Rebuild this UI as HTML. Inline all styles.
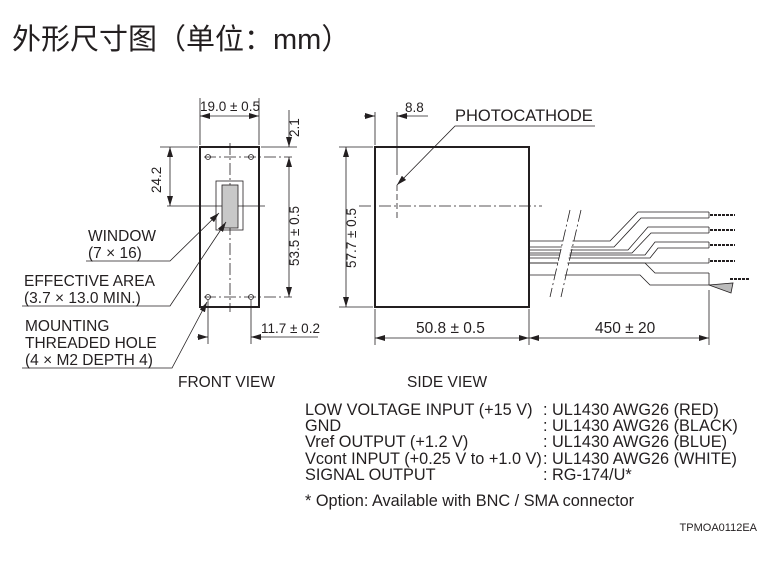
<!DOCTYPE html>
<html><head><meta charset="utf-8"><style>
body{margin:0;background:#fff;width:771px;height:581px;overflow:hidden}
svg{display:block}
text{font-family:"Liberation Sans",Arial,sans-serif;fill:#231f20}
</style></head><body>
<svg width="771" height="581" viewBox="0 0 771 581" xmlns="http://www.w3.org/2000/svg">
<defs>
<marker id="a" viewBox="0 0 10 6" refX="10" refY="3" markerWidth="10" markerHeight="6" orient="auto-start-reverse" markerUnits="userSpaceOnUse"><path d="M0,0L10,3L0,6z" fill="#231f20"/></marker>
</defs>
<text x="12" y="49" style="font-family:'Liberation Sans','Noto Sans CJK SC',sans-serif;font-size:29px">外形尺寸图（单位：mm）</text>
<g stroke="#231f20" fill="none" stroke-width="0.8">
<rect x="200" y="147" width="59" height="160" stroke-width="2"/>
<line x1="230" y1="143" x2="230" y2="312" stroke-dasharray="12,3,2,3"/>
<line x1="167" y1="206" x2="265" y2="206"/>
<line x1="204" y1="157" x2="292" y2="157" stroke-dasharray="12,3,2,3"/>
<line x1="204" y1="297" x2="292" y2="297" stroke-dasharray="12,3,2,3"/>
<circle cx="208" cy="157" r="2.5"/><circle cx="251" cy="157" r="2.5"/>
<circle cx="208" cy="297" r="2.5"/><circle cx="251" cy="297" r="2.5"/>
<rect x="216" y="181" width="27" height="49"/>
<rect x="222" y="185" width="16" height="43" fill="#c8c8c8"/>
<line x1="200" y1="98" x2="200" y2="145"/><line x1="259" y1="98" x2="259" y2="145"/>
<line x1="200" y1="116" x2="259" y2="116" marker-start="url(#a)" marker-end="url(#a)"/>
<line x1="160" y1="147" x2="198" y2="147"/>
<line x1="170" y1="147" x2="170" y2="206" marker-start="url(#a)" marker-end="url(#a)"/>
<line x1="261" y1="147" x2="297" y2="147"/>
<line x1="289" y1="110" x2="289" y2="147" marker-end="url(#a)"/>
<line x1="289" y1="157" x2="289" y2="297" marker-start="url(#a)" marker-end="url(#a)"/>
<line x1="208" y1="300" x2="208" y2="344"/><line x1="251" y1="300" x2="251" y2="344"/>
<line x1="197" y1="337" x2="208" y2="337" marker-end="url(#a)"/>
<line x1="262" y1="337" x2="251" y2="337" marker-end="url(#a)"/>
<line x1="262" y1="337" x2="318" y2="337"/>
<polyline points="86,261 170,261 219,213" marker-end="url(#a)"/>
<polyline points="22,306 170,306 226,222" marker-end="url(#a)"/>
<polyline points="22,368 172,368 207,302" marker-end="url(#a)"/>
<rect x="375" y="147" width="154" height="160" stroke-width="2"/>
<line x1="359" y1="206" x2="542" y2="206" stroke-dasharray="12,3,2,3"/>
<line x1="397" y1="185" x2="397" y2="220" stroke-dasharray="6,3"/>
<line x1="375" y1="112" x2="375" y2="145"/><line x1="397" y1="112" x2="397" y2="175"/>
<line x1="364" y1="116" x2="375" y2="116" marker-end="url(#a)"/>
<line x1="408" y1="116" x2="397" y2="116" marker-end="url(#a)"/>
<line x1="397" y1="116" x2="428" y2="116"/>
<polyline points="595,126 455,126 397,185" marker-end="url(#a)"/>
<line x1="339" y1="147" x2="373" y2="147"/><line x1="339" y1="307" x2="373" y2="307"/>
<line x1="346" y1="147" x2="346" y2="307" marker-start="url(#a)" marker-end="url(#a)"/>
<line x1="375" y1="309" x2="375" y2="345"/><line x1="529" y1="309" x2="529" y2="345"/>
<line x1="709" y1="290" x2="709" y2="345"/>
<line x1="375" y1="338" x2="529" y2="338" marker-start="url(#a)" marker-end="url(#a)"/>
<line x1="529" y1="338" x2="709" y2="338" marker-start="url(#a)" marker-end="url(#a)"/>
<polyline points="529,241 610,241 638,212 709,212"/>
<polyline points="529,247 614,247 641,218 709,218"/>
<polyline points="529,250 628,250 648,227 709,227"/>
<polyline points="529,253 632,253 651,233 709,233"/>
<polyline points="529,255 645,255 655,242 709,242"/>
<polyline points="529,258 650,258 658,248 709,248"/>
<line x1="529" y1="263" x2="709" y2="263"/>
<polyline points="529,263 645,263 655,273 709,273"/>
<polyline points="529,275 640,275 650,285 709,285"/>
<line x1="709" y1="212" x2="709" y2="218"/><line x1="709" y1="227" x2="709" y2="233"/>
<line x1="709" y1="242" x2="709" y2="248"/><line x1="709" y1="258" x2="709" y2="263"/>
<line x1="709" y1="273" x2="709" y2="285"/>
<g stroke-width="2" stroke-dasharray="3,1"><line x1="710" y1="215" x2="735" y2="215"/><line x1="710" y1="230" x2="735" y2="230"/><line x1="710" y1="245" x2="735" y2="245"/><line x1="710" y1="261" x2="735" y2="261"/><line x1="730" y1="279" x2="750" y2="279"/></g>
<polygon points="709,285 733,283 731,293" fill="#bbb"/>
<line x1="575" y1="210" x2="555" y2="297" stroke="#fff" stroke-width="9"/>
<line x1="570" y1="210" x2="550" y2="297" stroke-dasharray="12,3,2,3"/>
<line x1="581" y1="210" x2="561" y2="297" stroke-dasharray="12,3,2,3"/>
</g>
<g font-size="13.5">
<text x="200" y="111">19.0 ± 0.5</text>
<text x="0" y="0" transform="translate(161,193) rotate(-90)">24.2</text>
<text x="0" y="0" transform="translate(299,137) rotate(-90)">2.1</text>
<text x="0" y="0" transform="translate(299,266) rotate(-90)">53.5 ± 0.5</text>
<text x="0" y="0" transform="translate(356,268) rotate(-90)">57.7 ± 0.5</text>
<text x="261" y="333">11.7 ± 0.2</text>
<text x="405" y="112">8.8</text>
<text x="455" y="121" font-size="16.5">PHOTOCATHODE</text>
<text x="416" y="333" font-size="15.5">50.8 ± 0.5</text>
<text x="595" y="333" font-size="15.5">450 ± 20</text>
</g>
<g font-size="15.5">
<text x="88" y="241">WINDOW</text><text x="88" y="258">(7 × 16)</text>
<text x="24" y="286">EFFECTIVE AREA</text><text x="24" y="303">(3.7 × 13.0 MIN.)</text>
<text x="25" y="331">MOUNTING</text><text x="25" y="348">THREADED HOLE</text><text x="25" y="365">(4 × M2 DEPTH 4)</text>
<text x="178" y="387">FRONT VIEW</text>
<text x="407" y="387">SIDE VIEW</text>
</g>
<g font-size="16.3">
<text x="305" y="415">LOW VOLTAGE INPUT (+15 V)</text><text x="543" y="415">: UL1430 AWG26 (RED)</text>
<text x="305" y="431">GND</text><text x="543" y="431">: UL1430 AWG26 (BLACK)</text>
<text x="305" y="447">Vref OUTPUT (+1.2 V)</text><text x="543" y="447">: UL1430 AWG26 (BLUE)</text>
<text x="305" y="464">Vcont INPUT (+0.25 V to +1.0 V)</text><text x="543" y="464">: UL1430 AWG26 (WHITE)</text>
<text x="305" y="480">SIGNAL OUTPUT</text><text x="543" y="480">: RG-174/U*</text>
<text x="305" y="506">* Option: Available with BNC / SMA connector</text>
</g>
<text x="757" y="531" font-size="11" text-anchor="end">TPMOA0112EA</text>
</svg>
</body></html>
